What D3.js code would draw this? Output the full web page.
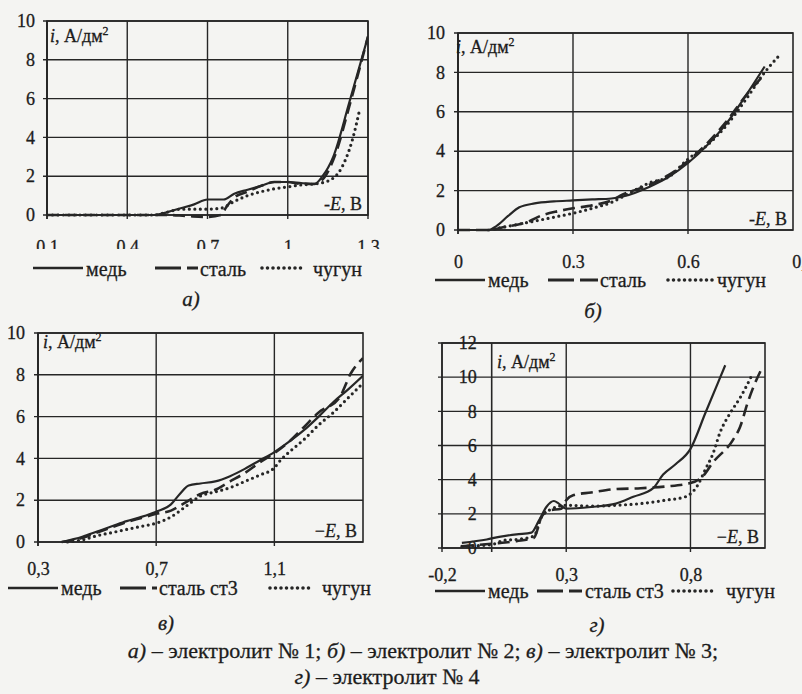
<!DOCTYPE html>
<html><head><meta charset="utf-8">
<script src="https://cdn.jsdelivr.net/npm/d3@7"></script>
<style>
body{margin:0;background:#f4f4f2;}
svg{display:block;}
</style></head><body>
<svg id="c" width="802" height="694"></svg>
<script>
// ---------- DATA ----------
const aXTicks = [0.1, 0.4, 0.7, 1.0, 1.3];
const aXLabels = ["0,1", "0,4", "0,7", "1", "1,3"];
const bXTicks = [0, 0.3, 0.6, 0.9];
const bXLabels = ["0", "0.3", "0.6", "0,9"];
const cXTicks = [0.3, 0.7, 1.1];
const cXLabels = ["0,3", "0,7", "1,1"];
const dXTicks = [-0.2, 0.3, 0.8];
const dXLabels = ["-0,2", "0,3", "0,8"];
const yTicks10 = [0, 2, 4, 6, 8, 10];
const yTicks12 = [0, 2, 4, 6, 8, 10, 12];
const namesAB = ["медь", "сталь", "чугун"];
const namesCD = ["медь", "сталь ст3", "чугун"];

// panel а) electrolyte 1  [-E (V), i (A/dm2)]
const aCopper = [[0.1,0],[0.5,0],[0.55,0.15],[0.6,0.35],[0.65,0.55],[0.7,0.8],[0.76,0.8],[0.8,1.1],[0.85,1.3],[0.9,1.5],[0.95,1.7],[1.0,1.7],[1.05,1.65],[1.1,1.6],[1.13,2.0],[1.17,3.0],[1.23,5.8],[1.3,9.2]];
const aSteel  = [[0.1,0],[0.55,0],[0.62,-0.05],[0.7,-0.1],[0.75,0],[0.77,0.4],[0.8,0.9],[0.85,1.2],[0.9,1.5],[0.95,1.7],[1.0,1.7],[1.05,1.6],[1.1,1.6],[1.14,2.0],[1.18,3.2],[1.23,5.6],[1.3,9.2]];
const aIron   = [[0.1,0],[0.5,0],[0.55,0.15],[0.6,0.3],[0.7,0.3],[0.75,0.35],[0.8,0.7],[0.85,1.0],[0.9,1.2],[0.95,1.35],[1.0,1.45],[1.05,1.55],[1.1,1.6],[1.15,1.75],[1.2,2.4],[1.24,3.8],[1.27,5.5]];

// panel б) electrolyte 2
const bCopper = [[0,0],[0.08,0],[0.1,0.2],[0.13,0.7],[0.16,1.15],[0.2,1.35],[0.25,1.45],[0.3,1.5],[0.35,1.55],[0.4,1.6],[0.43,1.7],[0.5,2.2],[0.55,2.7],[0.6,3.4],[0.65,4.3],[0.7,5.4],[0.75,6.8],[0.8,8.3]];
const bSteel  = [[0,0],[0.08,0],[0.12,0.15],[0.18,0.4],[0.22,0.75],[0.26,0.95],[0.3,1.1],[0.35,1.25],[0.4,1.5],[0.43,1.8],[0.5,2.3],[0.55,2.8],[0.6,3.5],[0.65,4.4],[0.7,5.5],[0.75,6.8],[0.8,7.9]];
const bIron   = [[0.08,0],[0.12,0.15],[0.16,0.3],[0.2,0.45],[0.25,0.65],[0.3,0.85],[0.35,1.1],[0.4,1.4],[0.45,1.9],[0.5,2.4],[0.55,2.7],[0.6,3.6],[0.65,4.3],[0.7,5.3],[0.75,6.6],[0.8,8.0],[0.84,8.9]];

// panel в) electrolyte 3
const cCopper = [[0.38,0],[0.45,0.25],[0.5,0.5],[0.55,0.75],[0.6,1.0],[0.65,1.2],[0.7,1.45],[0.75,1.8],[0.78,2.3],[0.81,2.7],[0.85,2.8],[0.9,2.9],[0.95,3.15],[1.0,3.5],[1.05,3.9],[1.1,4.3],[1.15,4.8],[1.2,5.35],[1.25,6.0],[1.3,6.7],[1.35,7.3],[1.4,7.95]];
const cSteel  = [[0.38,0],[0.45,0.2],[0.5,0.45],[0.55,0.7],[0.6,0.95],[0.65,1.15],[0.7,1.35],[0.75,1.5],[0.8,1.9],[0.85,2.3],[0.9,2.5],[0.95,2.9],[1.0,3.3],[1.05,3.8],[1.1,4.25],[1.15,4.8],[1.2,5.5],[1.25,6.2],[1.32,6.9],[1.36,8.1],[1.4,8.8]];
const cIron   = [[0.4,0],[0.45,0.1],[0.5,0.3],[0.55,0.45],[0.6,0.6],[0.65,0.75],[0.7,0.9],[0.75,1.2],[0.8,1.7],[0.85,2.2],[0.9,2.4],[0.95,2.6],[1.0,2.9],[1.05,3.2],[1.1,3.55],[1.12,3.9],[1.15,4.3],[1.2,4.9],[1.25,5.6],[1.3,6.2],[1.35,6.9],[1.4,7.6]];

// panel г) electrolyte 4
const dCopper = [[-0.12,0.3],[-0.02,0.5],[0.03,0.65],[0.1,0.8],[0.16,0.9],[0.19,1.6],[0.22,2.4],[0.25,2.75],[0.27,2.6],[0.3,2.3],[0.4,2.4],[0.5,2.6],[0.57,3.0],[0.65,3.5],[0.69,4.3],[0.74,4.9],[0.8,5.8],[0.86,7.9],[0.94,10.7]];
const dSteel  = [[-0.12,0.1],[0,0.25],[0.1,0.4],[0.17,0.6],[0.2,1.8],[0.23,2.2],[0.28,2.3],[0.3,2.8],[0.33,3.1],[0.4,3.25],[0.5,3.45],[0.6,3.5],[0.7,3.6],[0.8,3.8],[0.85,4.2],[0.89,5.0],[0.97,6.3],[1.0,7.1],[1.03,8.5],[1.05,9.3],[1.09,10.6]];
const dIron   = [[-0.12,0.1],[0,0.2],[0.05,0.45],[0.1,0.5],[0.17,0.7],[0.2,1.8],[0.23,2.2],[0.3,2.5],[0.4,2.45],[0.5,2.5],[0.6,2.6],[0.7,2.8],[0.78,3.0],[0.83,3.7],[0.86,4.6],[0.89,5.5],[0.92,6.8],[0.96,7.9],[1.0,8.8],[1.04,9.9],[1.05,10.2]];

const captionLine1 = [["а)",true],[" – электролит № 1; ",false],["б)",true],[" – электролит № 2; ",false],["в)",true],[" – электролит № 3;",false]];
const captionLine2 = [["г)",true],[" – электролит № 4",false]];

// ---------- STYLE / LAYOUT ----------
const ink = "#262626";
const txt = "#1c1c1c";
const SERIF = '"Liberation Serif"';
const styles = [
  {w:2.2, dash:null, cap:"butt"},
  {w:2.6, dash:"12,6", cap:"butt"},
  {w:3.2, dash:"0,5.5", cap:"round"}
];
const panels = [
  {id:"a", series:[aCopper,aSteel,aIron], names:namesAB, xt:aXTicks, xl:aXLabels, yt:yTicks10,
   left:47, xEnd:368, frameR:368, top:21, bottom:215, xDom:[0.1,1.3], yDom:[0,10], yAxisVal:0.1,
   yPad:12, xPad:25, xClip:249, iLab:[50,42], eSign:"-",
   legY:268, legBase:276, leg:[[33,83,86],[155,198,200],[262,305,313]], sub:["а)",191,306]},
  {id:"b", series:[bCopper,bSteel,bIron], names:namesAB, xt:bXTicks, xl:bXLabels, yt:yTicks10,
   left:458, xEnd:803, frameR:793, top:33, bottom:230, xDom:[0,0.9], yDom:[0,10], yAxisVal:0,
   yPad:13, xPad:25, xClip:null, iLab:[456,53], eSign:"-",
   legY:280, legBase:287, leg:[[435,485,488],[548,598,600],[668,713,717]], sub:["б)",593,318]},
  {id:"c", series:[cCopper,cSteel,cIron], names:namesCD, xt:cXTicks, xl:cXLabels, yt:yTicks10,
   left:38, xEnd:363, frameR:363, top:333, bottom:542, xDom:[0.3,1.4], yDom:[0,10], yAxisVal:0.3,
   yPad:13, xPad:20, xClip:null, iLab:[43,348], eSign:"−",
   legY:588, legBase:595, leg:[[8,58,61],[120,157,159],[270,312,322]], sub:["в)",166,630]},
  {id:"d", series:[dCopper,dSteel,dIron], names:namesCD, xt:dXTicks, xl:dXLabels, yt:yTicks12,
   left:442, xEnd:765, frameR:765, top:343, bottom:548, xDom:[-0.2,1.1], yDom:[0,12], yAxisVal:0,
   yPad:15, xPad:20, xClip:null, iLab:[497,368], eSign:"−",
   legY:591, legBase:598, leg:[[435,485,488],[537,582,585],[673,713,726]], sub:["г)",597,632]}
];

const svg = d3.select("#c");
svg.append("rect").attr("width",802).attr("height",694).attr("fill","#f4f4f2");

function styleText(sel, size){
  return sel.attr("font-size", size).attr("fill", txt)
    .attr("stroke", txt).attr("stroke-width", 0.3)
    .style("font-family", SERIF);
}

function drawPanel(p){
  const g = svg.append("g");
  const x = d3.scaleLinear().domain(p.xDom).range([p.left, p.xEnd]);
  const y = d3.scaleLinear().domain(p.yDom).range([p.bottom, p.top]);
  const yAxX = x(p.yAxisVal);

  g.append("g").selectAll("line").data(p.yt).join("line")
    .attr("x1", p.left - 4).attr("x2", p.frameR)
    .attr("y1", d => y(d)).attr("y2", d => y(d))
    .attr("stroke", ink).attr("stroke-width", 1.4);
  g.append("g").selectAll("line").data(p.xt.filter(d => x(d) <= p.frameR + 0.5)).join("line")
    .attr("x1", d => x(d)).attr("x2", d => x(d))
    .attr("y1", p.top).attr("y2", p.bottom + 4)
    .attr("stroke", ink).attr("stroke-width", 1.4);
  g.append("rect").attr("x", p.left).attr("y", p.top)
    .attr("width", p.frameR - p.left).attr("height", p.bottom - p.top)
    .attr("fill", "none").attr("stroke", ink).attr("stroke-width", 1.6);
  g.append("line").attr("x1", yAxX).attr("x2", yAxX).attr("y1", p.top).attr("y2", p.bottom + 4)
    .attr("stroke", ink).attr("stroke-width", 1.6);

  const ya = g.append("g").attr("transform", `translate(${yAxX},0)`)
    .call(d3.axisLeft(y).tickValues(p.yt).tickFormat(d3.format("d")).tickSize(0).tickPadding(p.yPad));
  ya.select(".domain").remove();
  styleText(ya.selectAll("text"), 18);

  const xa = g.append("g").attr("transform", `translate(0,${p.bottom})`)
    .call(d3.axisBottom(x).tickValues(p.xt).tickFormat((d, i) => p.xl[i]).tickSize(0).tickPadding(p.xPad));
  xa.select(".domain").remove();
  styleText(xa.selectAll("text"), 18);
  if (p.xClip) {
    const cid = "clipx" + p.id;
    svg.append("clipPath").attr("id", cid).append("rect")
      .attr("x", 0).attr("y", -p.bottom).attr("width", 802).attr("height", p.xClip);
    xa.attr("clip-path", `url(#${cid})`);
  }

  const pid = "clipp" + p.id;
  svg.append("clipPath").attr("id", pid).append("rect")
    .attr("x", p.left).attr("y", p.top - 4).attr("width", p.frameR - p.left).attr("height", p.bottom - p.top + 10);
  const line = d3.line().x(d => x(d[0])).y(d => y(d[1])).curve(d3.curveMonotoneX);
  const cg = g.append("g").attr("clip-path", `url(#${pid})`);
  p.series.forEach((s, i) => {
    cg.append("path").attr("d", line(s)).attr("fill", "none")
      .attr("stroke", ink).attr("stroke-width", styles[i].w)
      .attr("stroke-dasharray", styles[i].dash).attr("stroke-linecap", styles[i].cap)
      .attr("stroke-linejoin", "round");
  });

  const it = styleText(g.append("text").attr("x", p.iLab[0]).attr("y", p.iLab[1]), 18);
  it.append("tspan").attr("font-style", "italic").text("i");
  it.append("tspan").text(", А/дм");
  it.append("tspan").attr("font-size", 12).attr("dy", -7).text("2");

  const et = styleText(g.append("text").attr("x", p.frameR - 6).attr("y", p.bottom - 5)
    .attr("text-anchor", "end"), 18);
  et.append("tspan").text(p.eSign);
  et.append("tspan").attr("font-style", "italic").text("E");
  et.append("tspan").text(", В");

  p.leg.forEach((l, i) => {
    g.append("line").attr("x1", l[0]).attr("x2", l[1]).attr("y1", p.legY).attr("y2", p.legY)
      .attr("stroke", ink).attr("stroke-width", styles[i].w + 0.4)
      .attr("stroke-dasharray", i === 1 ? "26,6" : styles[i].dash)
      .attr("stroke-linecap", styles[i].cap);
    styleText(g.append("text").attr("x", l[2]).attr("y", p.legBase), 20).text(p.names[i]);
  });

  styleText(g.append("text").attr("x", p.sub[1]).attr("y", p.sub[2]).attr("text-anchor", "middle")
    .attr("font-style", "italic"), 21).text(p.sub[0]);
}

panels.forEach(drawPanel);

function caption(parts, cx, base){
  const t = styleText(svg.append("text").attr("x", cx).attr("y", base).attr("text-anchor", "middle"), 22);
  parts.forEach(([s, it]) => t.append("tspan").attr("font-style", it ? "italic" : "normal").text(s));
}
caption(captionLine1, 423, 658);
caption(captionLine2, 387, 684);
</script>
</body></html>
